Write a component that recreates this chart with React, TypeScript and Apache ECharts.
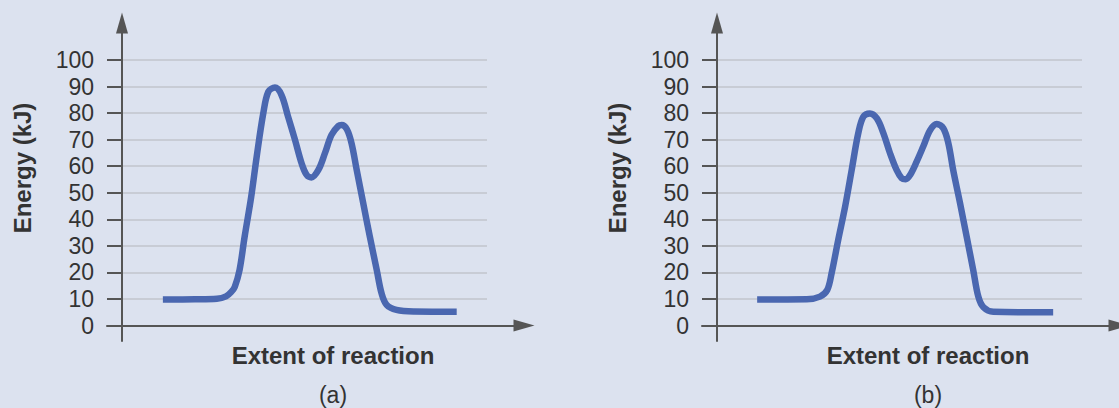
import React, { useEffect, useRef } from "react";
import * as echarts from "echarts";

// Panel (a)
const extentA = [11.2, 20, 26, 28.5, 30.0, 30.9, 32.2, 33.6, 35.4, 36.9, 38.7, 40.1, 41.9, 43.7, 45.5, 47.4, 49.2, 50.6, 51.9, 53.8, 55.6, 57.4, 59.3, 60.2, 61.6, 62.9, 64.3, 66.1, 67.9, 69.8, 71.1, 72.5, 75.2, 80, 91.7];
const energyA = [9.8, 9.9, 10.1, 11.0, 12.8, 14.6, 20.9, 33.5, 48.5, 63.6, 79.9, 88.1, 89.6, 86.8, 78.7, 69.9, 61.1, 56.7, 55.8, 58.6, 64.9, 71.8, 75.2, 75.5, 73.9, 68.6, 58.6, 46.0, 33.5, 20.9, 12.2, 7.8, 5.9, 5.3, 5.2];

// Panel (b)
const extentB = [11.0, 24.6, 28.2, 30.2, 31.4, 33.2, 35.1, 36.9, 38.7, 40.1, 41.9, 43.8, 45.6, 47.4, 49.2, 50.6, 51.7, 52.9, 54.7, 56.5, 58.4, 60.2, 62.0, 63.4, 64.7, 66.6, 68.4, 70.2, 71.6, 73.0, 75.7, 92.1];
const energyB = [9.8, 9.9, 10.9, 13.4, 19.7, 32.2, 44.8, 58.6, 72.4, 78.7, 79.9, 78.0, 72.4, 64.9, 58.6, 55.5, 55.1, 56.7, 61.7, 67.4, 73.6, 75.9, 74.3, 68.6, 58.6, 46.0, 33.5, 20.9, 10.9, 6.9, 5.2, 5.0];

const panelLabels = ["(a)", "(b)"];
const yAxisTitle = "Energy (kJ)";
const xAxisTitle = "Extent of reaction";

const FONT = '"Liberation Sans", Arial, Helvetica, sans-serif';
const AXIS_COLOR = "#555555";
const TEXT_COLOR = "#333333";
const GRID_COLOR = "#c2c5cc";
const CURVE_COLOR = "#4a67b0";
const BG = "#dce2ef";

export default function App() {
  const ref = useRef<HTMLDivElement>(null);

  useEffect(() => {
    if (!ref.current) return;
    const chart = echarts.init(ref.current, undefined, { renderer: "svg" });

    const panels = [
      { dx: 0, xs: extentA, ys: energyA, label: panelLabels[0] },
      { dx: 595, xs: extentB, ys: energyB, label: panelLabels[1] },
    ];

    const grid: any[] = [];
    const xAxis: any[] = [];
    const yAxis: any[] = [];
    const series: any[] = [];
    const graphic: any[] = [];

    const axisLineStyle = { color: AXIS_COLOR, width: 2 };

    panels.forEach((p, i) => {
      const g = i * 3;
      grid.push({ left: 122 + p.dx, top: 60, width: 365, height: 265.6 });
      grid.push({ left: 122 + p.dx, top: 23, width: 365, height: 318 });
      grid.push({ left: 107 + p.dx, top: 60, width: 417, height: 265.6 });

      xAxis.push({ gridIndex: g, type: "value", min: 0, max: 100, show: false });
      yAxis.push({
        gridIndex: g,
        type: "value",
        min: 0,
        max: 100,
        interval: 10,
        axisLine: { show: true, lineStyle: axisLineStyle },
        axisTick: { show: true, length: 15, lineStyle: axisLineStyle },
        axisLabel: { margin: 28, fontSize: 23, color: TEXT_COLOR, fontFamily: FONT },
        splitLine: { show: true, lineStyle: { color: GRID_COLOR, width: 1.5 } },
      });

      xAxis.push({ gridIndex: g + 1, type: "value", min: 0, max: 1, show: false });
      yAxis.push({
        gridIndex: g + 1,
        type: "value",
        min: 0,
        max: 1,
        axisLine: {
          show: true,
          symbol: ["none", "triangle"],
          symbolSize: [12, 21],
          lineStyle: axisLineStyle,
        },
        axisTick: { show: false },
        axisLabel: { show: false },
        splitLine: { show: false },
      });

      xAxis.push({
        gridIndex: g + 2,
        type: "value",
        min: 0,
        max: 1,
        position: "bottom",
        axisLine: {
          show: true,
          onZero: false,
          symbol: ["none", "triangle"],
          symbolSize: [12, 21],
          lineStyle: axisLineStyle,
        },
        axisTick: { show: false },
        axisLabel: { show: false },
        splitLine: { show: false },
      });
      yAxis.push({ gridIndex: g + 2, type: "value", min: 0, max: 1, show: false });

      series.push({
        type: "line",
        xAxisIndex: g,
        yAxisIndex: g,
        data: p.xs.map((x, k) => [x, p.ys[k]]),
        showSymbol: false,
        smooth: 0.35,
        lineStyle: { color: CURVE_COLOR, width: 6.5, cap: "butt", join: "round" },
        z: 5,
      });

      graphic.push({
        type: "text",
        x: 22 + p.dx,
        y: 168,
        rotation: Math.PI / 2,
        style: {
          text: yAxisTitle,
          fill: TEXT_COLOR,
          fontSize: 24,
          fontWeight: "bold",
          fontFamily: FONT,
          align: "center",
          verticalAlign: "middle",
        },
      });
      graphic.push({
        type: "text",
        x: 333 + p.dx,
        y: 355,
        style: {
          text: xAxisTitle,
          fill: TEXT_COLOR,
          fontSize: 24,
          fontWeight: "bold",
          fontFamily: FONT,
          align: "center",
          verticalAlign: "middle",
        },
      });
      graphic.push({
        type: "text",
        x: 333 + p.dx,
        y: 395,
        style: {
          text: p.label,
          fill: TEXT_COLOR,
          fontSize: 23,
          fontFamily: FONT,
          align: "center",
          verticalAlign: "middle",
        },
      });
    });

    chart.setOption({
      animation: false,
      backgroundColor: BG,
      grid,
      xAxis,
      yAxis,
      series,
      graphic,
    });

    return () => chart.dispose();
  }, []);

  return (
    <div
      ref={ref}
      style={{ position: "absolute", left: 0, top: 0, width: 1119, height: 408 }}
    />
  );
}
